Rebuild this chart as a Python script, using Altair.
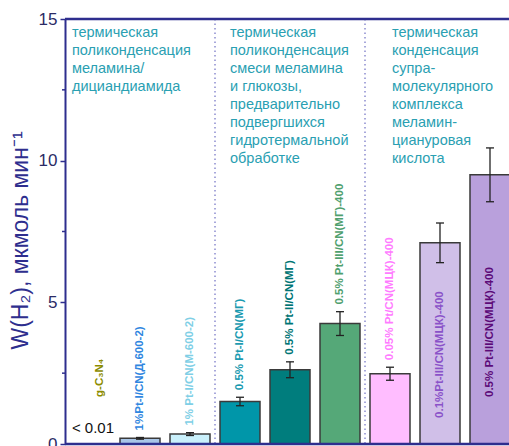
import altair as alt
import pandas as pd

# ---- data ----
names = ["g-C₃N₄", "1%Pt-I/CN(Д-600-2)", "1% Pt-I/CN(M-600-2)",
         "0.5% Pt-I/CN(МГ)", "0.5% Pt-II/CN(МГ)", "0.5% Pt-III/CN(МГ)-400",
         "0.05% Pt/CN(МЦК)-400", "0.1%Pt-III/CN(МЦК)-400", "0.5% Pt-III/CN(МЦК)-400"]
values = [0.01, 0.2, 0.35, 1.5, 2.62, 4.25, 2.48, 7.1, 9.5]
errors = [0.0, 0.03, 0.05, 0.15, 0.28, 0.42, 0.23, 0.7, 0.95]
bar_colors = ["#c4c4c4", "#a9c6e8", "#c9f0fb", "#0096a9", "#007d7d",
              "#55a878", "#ffbdff", "#d0bfe8", "#b9a0dc"]
label_colors = ["#8c8c00", "#2f86e0", "#7fcfe6", "#1a9ab0", "#007575",
                "#4fa06e", "#ff7cff", "#8a52c8", "#5c0a78"]
group_texts = [
    "термическая\nполиконденсация\nмеламина/\nдициандиамида",
    "термическая\nполиконденсация\nсмеси меламина\nи глюкозы,\nпредварительно\nподвергшихся\nгидротермальной\nобработке",
    "термическая\nконденсация\nсупра-\nмолекулярного\nкомплекса\nмеламин-\nциануровая\nкислота",
]
separators = [3.5, 6.5]
y_ticks = [0, 5, 10, 15]
minor_ticks = [2.5, 7.5, 12.5]

NAVY = "#2e2e8e"
FONT = "Liberation Sans"

pos = list(range(1, len(values) + 1))
label_anchor = []
for i, (v, e) in enumerate(zip(values, errors)):
    label_anchor.append(v + e + 0.25)
label_anchor[0] = 1.66
label_anchor[7] = 0.92
label_anchor[8] = 1.66
label_x = [p for p in pos]
label_x[0] = pos[0] + 0.2

df = pd.DataFrame({
    "name": names, "value": values, "err": errors, "pos": pos,
    "x1": [p - 0.4 for p in pos], "x2": [p + 0.4 for p in pos],
    "lo": [v - e for v, e in zip(values, errors)],
    "hi": [v + e for v, e in zip(values, errors)],
    "c1": [p - 0.08 for p in pos], "c2": [p + 0.08 for p in pos],
    "bar_color": bar_colors, "label_color": label_colors,
    "anchor": label_anchor, "lx": label_x,
})
df_err = df[df["err"] > 0]

xs = alt.Scale(domain=[0.5, 9.38], nice=False, zero=False)
ys = alt.Scale(domain=[0, 15], nice=False)

y_axis = alt.Axis(values=y_ticks, title="W(H₂), мкмоль мин⁻¹", grid=False,
                  domainColor=NAVY, domainWidth=2, tickColor=NAVY, tickWidth=1.5,
                  tickSize=5, labelFontSize=17, labelColor="#2b2b66", labelFont=FONT,
                  labelPadding=3, titleFont=FONT, titleFontSize=23, titleColor=NAVY,
                  titleFontWeight="normal", titleX=-33, titleY=221)

base = alt.Chart(df)

bars = base.mark_rect(stroke="#3a3a3a", strokeWidth=1.5).encode(
    x=alt.X("x1:Q", scale=xs, axis=None),
    x2="x2:Q",
    y=alt.Y("value:Q", scale=ys, axis=y_axis),
    y2=alt.datum(0),
    color=alt.Color("bar_color:N", scale=None),
)

err_df = alt.Chart(df_err)
err_line = err_df.mark_rule(color="#222222", strokeWidth=1.3).encode(
    x=alt.X("pos:Q", scale=xs, axis=None), y=alt.Y("lo:Q", scale=ys), y2="hi:Q")
cap_top = err_df.mark_rule(color="#222222", strokeWidth=1.3).encode(
    x=alt.X("c1:Q", scale=xs, axis=None), x2="c2:Q", y=alt.Y("hi:Q", scale=ys))
cap_bot = err_df.mark_rule(color="#222222", strokeWidth=1.3).encode(
    x=alt.X("c1:Q", scale=xs, axis=None), x2="c2:Q", y=alt.Y("lo:Q", scale=ys))

bar_labels = base.mark_text(angle=270, align="left", baseline="middle",
                            fontWeight="bold", fontSize=11.5, font=FONT).encode(
    x=alt.X("lx:Q", scale=xs, axis=None), y=alt.Y("anchor:Q", scale=ys),
    text="name:N", color=alt.Color("label_color:N", scale=None))

sep = alt.Chart(pd.DataFrame({"s": separators})).mark_rule(
    color="#8c8cd0", strokeWidth=1.5, strokeDash=[1.5, 3]).encode(
    x=alt.X("s:Q", scale=xs, axis=None))

frame = alt.Chart(pd.DataFrame({"v": [0, 15]})).mark_rule(
    color=NAVY, strokeWidth=2.5).encode(y=alt.Y("v:Q", scale=ys))

minor = alt.Chart(pd.DataFrame({"m": minor_ticks})).mark_rule(
    color=NAVY, strokeWidth=1.5).encode(
    y=alt.Y("m:Q", scale=ys), x=alt.value(-3), x2=alt.value(0))

group_df = pd.DataFrame({"t": group_texts, "px": [7, 165, 327]})
groups = alt.Chart(group_df).mark_text(
    align="left", baseline="alphabetic", fontSize=14.5, font=FONT,
    color="#2aa0b2", lineBreak="\n", lineHeight=18).encode(
    x=alt.X("px:Q", scale=alt.Scale(domain=[0, 444], nice=False, zero=True), axis=None),
    y=alt.value(18), text="t:N")

small = alt.Chart(pd.DataFrame({"t": ["< 0.01"]})).mark_text(
    fontSize=15, font=FONT, color="#111111", align="center", baseline="alphabetic").encode(
    x=alt.value(28), y=alt.value(414), text="t:N")

chart = alt.layer(sep, bars, err_line, cap_top, cap_bot, bar_labels, frame, minor,
                  groups, small).resolve_scale(x="independent").properties(
    width=444, height=425,
    autosize=alt.AutoSizeParams(type="none"),
    padding={"left": 65, "top": 19, "right": 0, "bottom": 2},
).configure_view(stroke=None).configure(background="white")

chart.save("out.html", embed_options={"renderer": "svg", "actions": False})
